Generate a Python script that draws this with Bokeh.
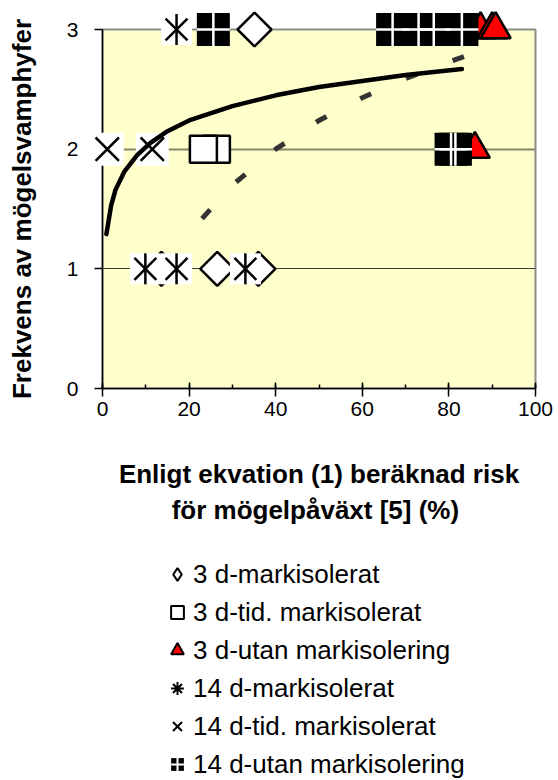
import math
from bokeh.plotting import figure
from bokeh.layouts import column
from bokeh.models import Range1d, FixedTicker, SingleIntervalTicker, Grid, Legend, LegendItem
from bokeh.embed import file_html
from bokeh.resources import INLINE

FONT = "Liberation Sans"

# ---------------- data ----------------
x_ticks = [0, 20, 40, 60, 80, 100]
y_ticks = [0, 1, 2, 3]

labels = ["3 d-markisolerat", "3 d-tid. markisolerat", "3 d-utan markisolering",
          "14 d-markisolerat", "14 d-tid. markisolerat", "14 d-utan markisolering"]

d3_mark_x = [35.1, 13.6, 26.5, 36.0]
d3_mark_y = [3, 1, 1, 1]

d3_tid_x = [26.3, 23.3]
d3_tid_y = [2, 2]

d3_utan_x = [87.3, 90.0, 90.8, 86.0]
d3_utan_y = [3, 3, 3, 2]

d14_mark_x = [17.1, 9.9, 17.1, 33.0]
d14_mark_y = [3, 1, 1, 1]

d14_tid_x = [1.1, 11.5]
d14_tid_y = [2, 2]

d14_utan_x = [25.6, 76.5, 73.0, 67.0, 83.0, 80.5, 81.5]
d14_utan_y = [3, 3, 3, 3, 3, 2, 2]

# solid trend curve
trend_x = [0.9, 2, 3, 5, 8, 11, 15, 20, 30, 40, 50, 60, 70, 83]
trend_y = [1.29, 1.53, 1.66, 1.81, 1.95, 2.05, 2.15, 2.24, 2.36, 2.45, 2.52, 2.57, 2.62, 2.67]

# dashed trend curve
trend2_x = [23, 30, 40, 50, 60, 70, 80, 88]
trend2_y = [1.42, 1.70, 2.00, 2.24, 2.43, 2.59, 2.73, 2.83]

# ---------------- main chart ----------------
p = figure(width=558, height=545, x_range=Range1d(0, 100), y_range=Range1d(0, 3),
           output_backend="svg", toolbar_location=None,
           min_border_left=102, min_border_right=23, min_border_top=29, min_border_bottom=157)
p.background_fill_color = "#FFFFCC"
p.border_fill_color = "white"
p.outline_line_color = "#8c8c8c"
p.outline_line_width = 2
p.xgrid.visible = False
p.ygrid.visible = False

p.add_layout(Grid(dimension=1, ticker=FixedTicker(ticks=[1]), grid_line_color="#3c3c3c", grid_line_width=1.2))
p.add_layout(Grid(dimension=1, ticker=FixedTicker(ticks=[2]), grid_line_color="#86866e", grid_line_width=2))

xa = p.xaxis[0]
xa.ticker = SingleIntervalTicker(interval=20, num_minor_ticks=2)
xa.major_tick_out = 8
xa.major_tick_in = 6
xa.minor_tick_out = 0
xa.minor_tick_in = 4
for ax in (xa, p.yaxis[0]):
    ax.axis_line_color = "black"
    ax.axis_line_width = 1.5
    ax.major_tick_line_color = "black"
    ax.major_tick_line_width = 1.5
    ax.minor_tick_line_color = "black"
    ax.minor_tick_line_width = 1.5
    ax.major_label_text_font = FONT
    ax.major_label_text_font_size = "21px"
    ax.major_label_text_color = "black"
    ax.axis_label_text_font = FONT
    ax.axis_label_text_font_style = "bold"
    ax.axis_label_text_font_size = "26px"
    ax.axis_label_text_color = "black"
xa.major_label_standoff = 5
xa.axis_label = "Enligt ekvation (1) beräknad risk\nför mögelpåväxt  [5] (%)"
xa.axis_label_text_line_height = 1.2
xa.axis_label_standoff = 40

ya = p.yaxis[0]
ya.ticker = FixedTicker(ticks=y_ticks)
ya.major_tick_out = 8
ya.major_tick_in = 0
ya.minor_tick_out = 0
ya.minor_tick_in = 0
ya.major_label_standoff = 16
ya.axis_label = "Frekvens av mögelsvamphyfer"
ya.axis_label_standoff = 27

LV = "overlay"
# 3 d-markisolerat : diamonds
p.scatter(d3_mark_x, d3_mark_y, marker="square", angle=math.pi / 4, size=24,
          fill_color="white", line_color="black", line_width=2.5, level=LV)
# 3 d-tid. markisolerat : squares
p.scatter(d3_tid_x, d3_tid_y, marker="square", size=27,
          fill_color="white", line_color="black", line_width=2.5, level=LV)
# 3 d-utan markisolering : red triangles
p.scatter(d3_utan_x, d3_utan_y, marker="triangle", size=30,
          fill_color="#FF0000", line_color="black", line_width=2.5, level=LV)
# 14 d-markisolerat : asterisks on white box
p.scatter(d14_mark_x, d14_mark_y, marker="square", size=31,
          fill_color="white", line_alpha=0, level=LV)
p.scatter(d14_mark_x, d14_mark_y, marker="x", size=31,
          line_color="black", line_width=2.5, level=LV)
p.scatter(d14_mark_x, d14_mark_y, marker="dash", angle=math.pi / 2, size=31,
          line_color="black", line_width=2.5, level=LV)
# 14 d-tid. markisolerat : x on white box
p.scatter(d14_tid_x, d14_tid_y, marker="square", size=33,
          fill_color="white", line_alpha=0, level=LV)
p.scatter(d14_tid_x, d14_tid_y, marker="x", size=33,
          line_color="black", line_width=2.5, level=LV)
# 14 d-utan markisolering : black squares with white cross
p.scatter(d14_utan_x, d14_utan_y, marker="square", size=33,
          fill_color="black", line_alpha=0, level=LV)
p.scatter(d14_utan_x, d14_utan_y, marker="cross", size=33,
          line_color="white", line_width=2.5, level=LV)

# trend lines
p.line(trend2_x, trend2_y, line_color="#333333", line_width=5, line_dash="12 38", level=LV)
p.line(trend_x, trend_y, line_color="black", line_width=4.5, line_cap="round", level=LV)

# ---------------- legend panel ----------------
q = figure(width=558, height=235, x_range=Range1d(0, 1), y_range=Range1d(0, 1),
           output_backend="svg", toolbar_location=None,
           x_axis_type=None, y_axis_type=None,
           min_border_left=0, min_border_right=0, min_border_top=0, min_border_bottom=0)
q.outline_line_color = None
q.background_fill_color = "white"
q.border_fill_color = "white"

# legend swatches (one point each, placed outside the visible range)
hx, hy = [-5], [-5]
l1 = q.scatter(hx, hy, marker="diamond", fill_color="white", line_color="black", line_width=2)
l2 = q.scatter(hx, hy, marker="square", fill_color="white", line_color="black", line_width=2)
l3 = q.scatter(hx, hy, marker="triangle", fill_color="#FF0000", line_color="black", line_width=2)
l4 = q.scatter(hx, hy, marker="asterisk", line_color="black", line_width=2)
l5 = q.scatter(hx, hy, marker="x", line_color="black", line_width=2)
l6a = q.scatter(hx, hy, marker="square", fill_color="black", line_alpha=0)
l6b = q.scatter(hx, hy, marker="cross", line_color="white", line_width=2)

legend = Legend(items=[
    LegendItem(label=labels[0], renderers=[l1]),
    LegendItem(label=labels[1], renderers=[l2]),
    LegendItem(label=labels[2], renderers=[l3]),
    LegendItem(label=labels[3], renderers=[l4]),
    LegendItem(label=labels[4], renderers=[l5]),
    LegendItem(label=labels[5], renderers=[l6a, l6b]),
], location=(59, -3), glyph_width=32, glyph_height=38, label_standoff=0,
    padding=0, margin=0, spacing=0, border_line_alpha=0, background_fill_alpha=0,
    label_text_font=FONT, label_text_font_size="26px", label_text_color="black")
q.add_layout(legend)

layout = column(p, q, spacing=0)
open("out.html", "w").write(file_html(layout, INLINE))
